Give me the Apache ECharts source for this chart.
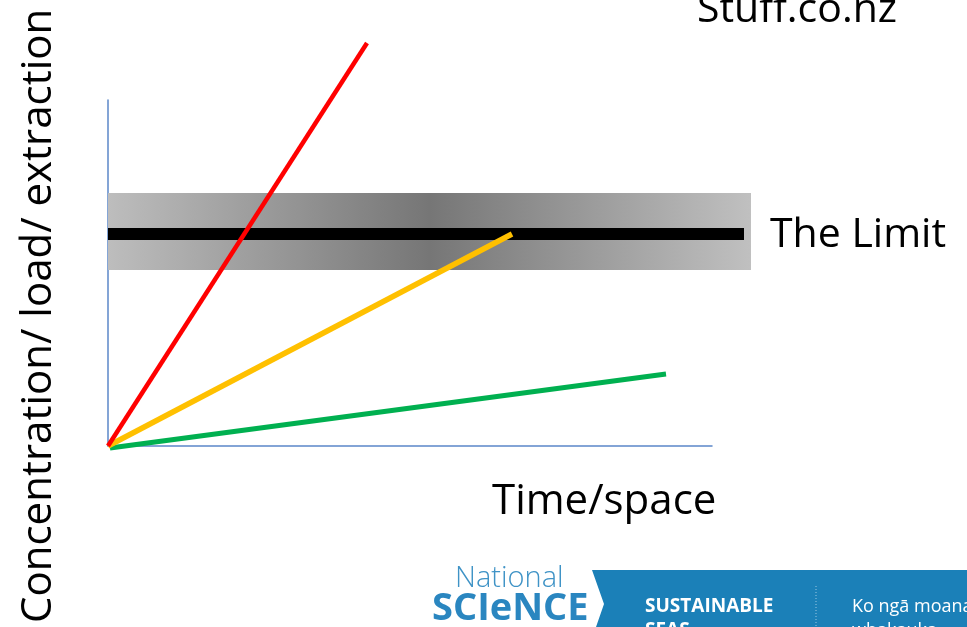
<!DOCTYPE html>
<html>
<head>
<meta charset="utf-8">
<script src="https://cdn.jsdelivr.net/npm/echarts@6/dist/echarts.min.js"></script>
<style>
  html, body { margin: 0; padding: 0; background: #fff; }
  #chart { width: 967px; height: 627px; }
</style>
</head>
<body>
<div id="chart"></div>
<script>
// values are in "chart units": x = time/space, y = concentration
const xRange = [0, 604];
const bandXRange = [0, 643];
const yRange = [0, 346];
const redLine = [[0, 0], [259, 403]];
const yellowLine = [[0, 0], [404, 212]];
const greenLine = [[2, -2], [558, 72]];
const limitLine = [[0, 212], [636, 212]];
const limitBand = { x: [0, 643], y: [176, 253] };

const FONT = "'Open Sans', 'Noto Sans', sans-serif";
const axisBlue = "#5b87c9";

const ch = echarts.init(document.getElementById("chart"));

const hiddenAxis = {
  show: false,
  splitLine: { show: false },
};

ch.setOption({
  backgroundColor: "#fff",
  animation: false,
  grid: [
    { left: 108, top: 100, right: 255, bottom: 181 },
    // wider grid, same scale, for the limit band that runs past the x axis
    { left: 108, top: 100, right: 216, bottom: 181 },
  ],
  xAxis: [
    {
      type: "value",
      gridIndex: 0,
      min: xRange[0],
      max: xRange[1],
      axisLine: { show: true, lineStyle: { color: axisBlue, width: 1.5 } },
      axisTick: { show: false },
      axisLabel: { show: false },
      splitLine: { show: false },
    },
    { type: "value", gridIndex: 1, min: bandXRange[0], max: bandXRange[1], ...hiddenAxis },
  ],
  yAxis: [
    {
      type: "value",
      gridIndex: 0,
      min: yRange[0],
      max: yRange[1],
      axisLine: { show: true, lineStyle: { color: axisBlue, width: 1.5 } },
      axisTick: { show: false },
      axisLabel: { show: false },
      splitLine: { show: false },
    },
    { type: "value", gridIndex: 1, min: yRange[0], max: yRange[1], ...hiddenAxis },
  ],
  series: [
    {
      name: "Limit",
      type: "line",
      xAxisIndex: 1,
      yAxisIndex: 1,
      data: limitLine,
      symbol: "none",
      lineStyle: { color: "#000", width: 12, cap: "butt" },
      markArea: {
        silent: true,
        itemStyle: {
          color: {
            type: "linear", x: 0, y: 0, x2: 1, y2: 0,
            colorStops: [
              { offset: 0, color: "#bdbdbd" },
              { offset: 0.5, color: "#767676" },
              { offset: 1, color: "#c0c0c0" },
            ],
          },
        },
        data: [[
          { coord: [limitBand.x[0], limitBand.y[1]] },
          { coord: [limitBand.x[1], limitBand.y[0]] },
        ]],
      },
      z: 2,
    },
    {
      name: "Green",
      type: "line",
      data: greenLine,
      clip: false,
      symbol: "none",
      lineStyle: { color: "#00b050", width: 5 },
      z: 3,
    },
    {
      name: "Yellow",
      type: "line",
      data: yellowLine,
      clip: false,
      symbol: "none",
      lineStyle: { color: "#ffc000", width: 5.5, cap: "butt" },
      z: 4,
    },
    {
      name: "Red",
      type: "line",
      data: redLine,
      clip: false,
      symbol: "none",
      lineStyle: { color: "#ff0000", width: 4.5 },
      z: 5,
    },
  ],
  graphic: [
    {
      type: "text", x: 770, y: 215,
      style: { text: "The Limit", font: `41px ${FONT}`, fill: "#000" },
    },
    {
      type: "text", x: 492, y: 481,
      style: { text: "Time/space", font: `42px ${FONT}`, fill: "#000" },
    },
    {
      type: "text", x: 697, y: -10,
      style: { text: "Stuff.co.nz", font: `41px ${FONT}`, fill: "#000" },
    },
    {
      type: "text", x: 18, y: 623, rotation: Math.PI / 2,
      style: { text: "Concentration/ load/ extraction", font: `42px ${FONT}`, fill: "#000" },
    },
    // logo strip at the bottom
    {
      type: "polygon",
      shape: { points: [[592, 570], [967, 570], [967, 627], [596, 627], [604, 604]] },
      style: { fill: "#1b80b8" },
    },
    {
      type: "line",
      shape: { x1: 816, y1: 586, x2: 816, y2: 627 },
      style: { stroke: "#9cc8e2", lineWidth: 1, lineDash: [1, 2] },
    },
    {
      type: "text", x: 455, y: 564,
      style: { text: "National", font: `300 29px ${FONT}`, fill: "#3f93c6" },
    },
    {
      type: "text", x: 432, y: 590,
      style: { text: "SCIeNCE", font: `bold 38px ${FONT}`, fill: "#2a86c0" },
    },
    {
      type: "text", x: 645, y: 595,
      style: { text: "SUSTAINABLE\nSEAS", font: `bold 19px ${FONT}`, fill: "#fff", lineHeight: 24 },
    },
    {
      type: "text", x: 852, y: 595,
      style: { text: "Ko ngā moana\nwhakauka", font: `18px ${FONT}`, fill: "#fff", lineHeight: 24 },
    },
  ],
});
</script>
</body>
</html>
